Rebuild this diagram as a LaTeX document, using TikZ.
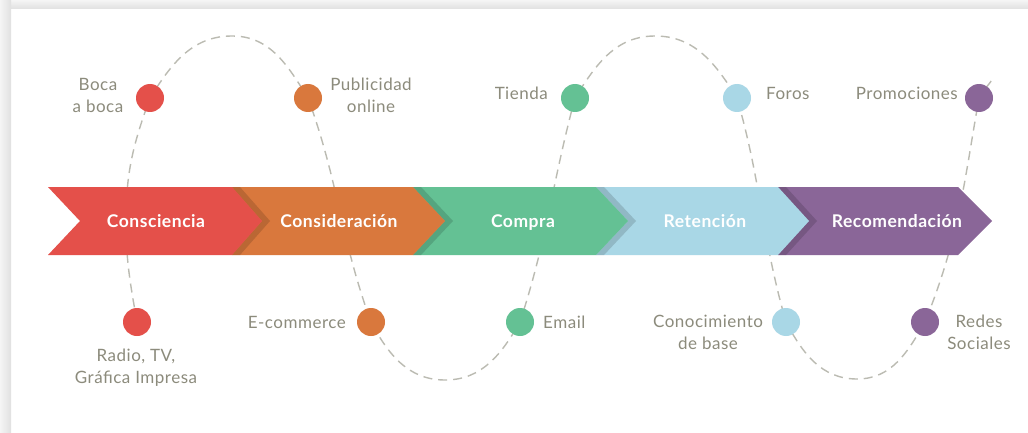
\documentclass[tikz,border=0pt]{standalone}
\usepackage{fontspec}
\setmainfont{Lato}
\newfontfamily\labelfont[LetterSpace=3]{Lato}
\newfontfamily\stagefont[LetterSpace=3]{Lato}
\pgfdeclarelayer{bg}
\pgfsetlayers{bg,main}
\definecolor{cRed}{HTML}{E4504A}
\definecolor{cOrange}{HTML}{D9783D}
\definecolor{cGreen}{HTML}{64C194}
\definecolor{cBlue}{HTML}{A9D7E6}
\definecolor{cPurple}{HTML}{8A6698}
\definecolor{labelgray}{HTML}{8C8B7C}
\definecolor{wavegray}{HTML}{BBBBB2}
\begin{document}
\begin{tikzpicture}[x=1pt,y=1pt,
  lbl/.style={text=labelgray, font=\labelfont\fontsize{17}{22}\selectfont, align=center, inner sep=0pt},
  stagelbl/.style={text=white, font=\stagefont\fontsize{17.5}{20}\selectfont\bfseries, inner sep=0pt, anchor=base},
  dot/.style={circle, minimum size=28pt, inner sep=0pt, fill=#1},
  wave/.style={draw=wavegray, line width=1.4pt, dash pattern=on 9pt off 6pt},
  tipshadow/.style={fill=black, fill opacity=0.14},
]
\useasboundingbox (0,0) rectangle (1028,432);

% stage chevrons, drawn right to left so each tip overlaps the next stage
\fill[cPurple] (778,245) -- (958,245) -- (992,211) -- (958,177) -- (778,177) -- cycle;
\fill[tipshadow] (778,245) -- (786,245) -- (817,211) -- (786,177) -- (778,177) -- (809,211) -- cycle;
\fill[cBlue] (596,245) -- (778,245) -- (809,211) -- (778,177) -- (596,177) -- cycle;
\fill[tipshadow] (596,245) -- (604,245) -- (636,211) -- (604,177) -- (596,177) -- (628,211) -- cycle;
\fill[cGreen] (413,245) -- (596,245) -- (628,211) -- (596,177) -- (413,177) -- cycle;
\fill[tipshadow] (413,245) -- (421,245) -- (453,211) -- (421,177) -- (413,177) -- (445,211) -- cycle;
\fill[cOrange] (232,245) -- (413,245) -- (445,211) -- (413,177) -- (232,177) -- cycle;
\fill[tipshadow] (232,245) -- (240,245) -- (270,211) -- (240,177) -- (232,177) -- (262,211) -- cycle;
\fill[cRed] (48,245) -- (232,245) -- (262,211) -- (232,177) -- (48,177) -- (80,211) -- cycle;

\node[stagelbl] (s1) at (156,205) {Consciencia};
\node[stagelbl] (s2) at (339,205) {Consideración};
\node[stagelbl] (s3) at (523,205) {Compra};
\node[stagelbl] (s4) at (705,205) {Retención};
\node[stagelbl] (s5) at (897,205) {Recomendación};

% touch-point dots
\node[dot=cRed] (rt) at (150,334) {};
\node[dot=cRed] (rb) at (137,110) {};
\node[dot=cOrange] (ot) at (308,334) {};
\node[dot=cOrange] (ob) at (371,110) {};
\node[dot=cGreen] (gt) at (575,334) {};
\node[dot=cGreen] (gb) at (520,110) {};
\node[dot=cBlue] (bt) at (737,334) {};
\node[dot=cBlue] (bb) at (786,110) {};
\node[dot=cPurple] (pt) at (979,334) {};
\node[dot=cPurple] (pb) at (925,110) {};

% labels
\node[lbl] (l1) at (98,337) {Boca\\a boca};
\node[lbl] (l2) at (371,337) {Publicidad\\online};
\node[lbl, anchor=base east] (l3) at (548,332) {Tienda};
\node[lbl, anchor=base west] (l4) at (766,332) {Foros};
\node[lbl, anchor=base east] (l5) at (958,332) {Promociones};
\node[lbl] (l6) at (136,64) {Radio, TV,\\Gráfica Impresa};
\node[lbl, anchor=base east] (l7) at (346,104) {E-commerce};
\node[lbl, anchor=base west] (l8) at (543,104) {Email};
\node[lbl] (l9) at (708,100) {Conocimiento\\de base};
\node[lbl] (l10) at (979,100) {Redes\\Sociales};

% dashed journey wave, behind the band and the dots
\coordinate (w1) at (126,211);
\coordinate (pk1) at (232,396);
\coordinate (tr1) at (445,52);
\coordinate (pk2) at (655,396);
\coordinate (tr2) at (857,53);
\coordinate (wend) at (994,356);
\begin{pgfonlayer}{bg}
\fill[white] (0,0) rectangle (1028,432);
% frame shadow along the left and top edges
\shade[left color=gray!8, right color=gray!24] (0,0) rectangle (11,432);
\shade[top color=gray!8, bottom color=gray!24] (0,423) rectangle (1028,432);
\shade[left color=gray!8, right color=gray!24] (0,423) rectangle (11,432);
\draw[wave] (rb.center) to[out=100,in=-90] (w1) to[out=90,in=-110] (rt.center)
  to[out=58,in=180] (pk1) to[out=0,in=122] (ot.center)
  to[out=-70,in=110] (ob.center) to[out=-62,in=180] (tr1)
  to[out=0,in=-120] (gb.center) to[out=72,in=-105] (gt.center)
  to[out=58,in=180] (pk2) to[out=0,in=122] (bt.center)
  to[out=-74,in=106] (bb.center) to[out=-62,in=180] (tr2)
  to[out=0,in=-120] (pb.center) to[out=68,in=-100] (pt.center)
  to[out=65,in=-115] (wend);
\end{pgfonlayer}
\end{tikzpicture}
\end{document}
